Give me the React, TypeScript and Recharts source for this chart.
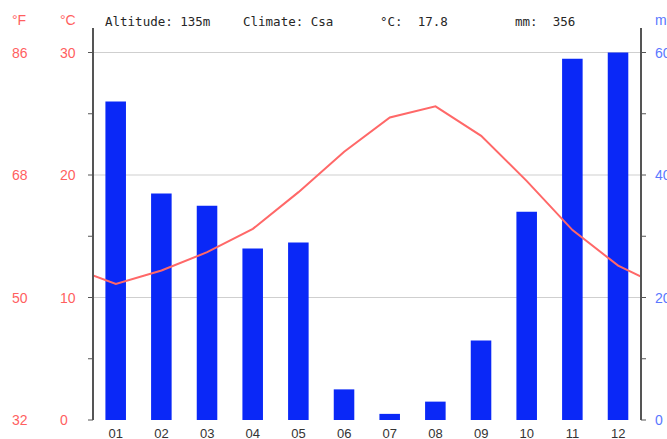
import React from 'react';
import { ComposedChart, Bar, Line, XAxis, YAxis, CartesianGrid } from 'recharts';

const months = [1, 2, 3, 4, 5, 6, 7, 8, 9, 10, 11, 12];
const monthLabels = ['01', '02', '03', '04', '05', '06', '07', '08', '09', '10', '11', '12'];
const tempC = [11.1, 12.2, 13.7, 15.6, 18.6, 21.9, 24.7, 25.6, 23.2, 19.5, 15.5, 12.6];
const precipMm = [52, 37, 35, 28, 29, 5, 1, 3, 13, 34, 59, 60];
// line runs out to the plot edges (Dec/Jan wrap)
const edgeTemp = [11.8, 11.7];
const monthEdges = [0.5, 1.5, 2.5, 3.5, 4.5, 5.5, 6.5, 7.5, 8.5, 9.5, 10.5, 11.5, 12.5];
const tempTicks = [0, 5, 10, 15, 20, 25, 30];
const precipTicks = [0, 10, 20, 30, 40, 50, 60];

const RED = '#ff5f5f';
const BLUE = '#5a78ff';
const AXIS = '#555';

const barData = months.map((m, i) => ({ m, precip: precipMm[i] }));
const lineData = [
  { m: monthEdges[0], temp: edgeTemp[0] },
  ...months.map((m, i) => ({ m, temp: tempC[i] })),
  { m: monthEdges[monthEdges.length - 1], temp: edgeTemp[1] },
];

const numFont = { fontFamily: 'Liberation Sans, Arial, sans-serif', fontSize: 14 };

const TempTick = ({ y, payload }: any) => {
  if (payload.value % 10 !== 0) return null;
  const f = Math.round(payload.value * 1.8 + 32);
  return (
    <g>
      <text x={12} y={y} dy={5} fill={RED} {...numFont}>{f}</text>
      <text x={60} y={y} dy={5} fill={RED} {...numFont}>{payload.value}</text>
    </g>
  );
};

const PrecipTick = ({ y, payload }: any) => {
  if (payload.value % 20 !== 0) return null;
  return (
    <text x={655} y={y} dy={5} fill={BLUE} {...numFont}>{payload.value}</text>
  );
};

const MonthTick = ({ x, y, payload }: any) => (
  <text x={x} y={y} dy={12} textAnchor="middle" fill="#333"
    fontFamily="Liberation Sans, Arial, sans-serif" fontSize={13}>
    {monthLabels[payload.value - 1]}
  </text>
);

const mono = {
  position: 'absolute' as const,
  top: 14,
  fontFamily: 'DejaVu Sans Mono, monospace',
  fontSize: 12.5,
  color: '#262626',
  whiteSpace: 'pre' as const,
};

const side = { ...mono, fontFamily: 'Liberation Sans, Arial, sans-serif', fontSize: 14, top: 12 };

export default function App() {
  return (
    <div style={{ position: 'absolute', left: 0, top: 0, width: 667, height: 439, background: '#fff', overflow: 'hidden' }}>
      <div style={{ ...side, left: 12, color: RED }}>°F</div>
      <div style={{ ...side, left: 60, color: RED }}>°C</div>
      <div style={{ ...mono, left: 105 }}>Altitude: 135m</div>
      <div style={{ ...mono, left: 243 }}>Climate: Csa</div>
      <div style={{ ...mono, left: 380 }}>°C:  17.8</div>
      <div style={{ ...mono, left: 515 }}>mm:  356</div>
      <div style={{ ...side, left: 655, color: BLUE }}>mm</div>
      <ComposedChart
        width={667}
        height={439}
        data={barData}
        margin={{ top: 28, right: 0, bottom: 0, left: 0 }}
        style={{ position: 'absolute', left: 0, top: 0 }}
      >
        <CartesianGrid yAxisId="t" horizontalValues={[10, 20, 30]} vertical={false} stroke="#cfcfcf" />
        <XAxis
          xAxisId="edge"
          type="number"
          dataKey="m"
          domain={[0.5, 12.5]}
          ticks={monthEdges}
          allowDataOverflow
          height={0}
          tick={false}
          tickSize={5}
          tickLine={{ stroke: AXIS }}
          axisLine={{ stroke: AXIS, strokeWidth: 2 }}
        />
        <XAxis
          xAxisId="m"
          type="number"
          dataKey="m"
          domain={[0.5, 12.5]}
          ticks={months}
          allowDataOverflow
          height={19}
          axisLine={false}
          tickLine={false}
          tick={<MonthTick />}
          tickMargin={0}
        />
        <YAxis
          yAxisId="t"
          width={93}
          domain={[0, 32]}
          ticks={tempTicks}
          allowDataOverflow
          tickSize={5}
          tickLine={{ stroke: AXIS }}
          axisLine={{ stroke: AXIS, strokeWidth: 2 }}
          tick={<TempTick />}
        />
        <YAxis
          yAxisId="p"
          orientation="right"
          width={26}
          domain={[0, 64]}
          ticks={precipTicks}
          allowDataOverflow
          tickSize={5}
          tickLine={{ stroke: AXIS }}
          axisLine={{ stroke: AXIS, strokeWidth: 2 }}
          tick={<PrecipTick />}
        />
        <Bar xAxisId="m" yAxisId="p" dataKey="precip" fill="#0a28f7" barSize={24} isAnimationActive={false} />
        <Line
          xAxisId="m"
          yAxisId="t"
          data={lineData}
          dataKey="temp"
          type="linear"
          stroke="#ff6868"
          strokeWidth={2}
          dot={false}
          isAnimationActive={false}
        />
      </ComposedChart>
    </div>
  );
}
